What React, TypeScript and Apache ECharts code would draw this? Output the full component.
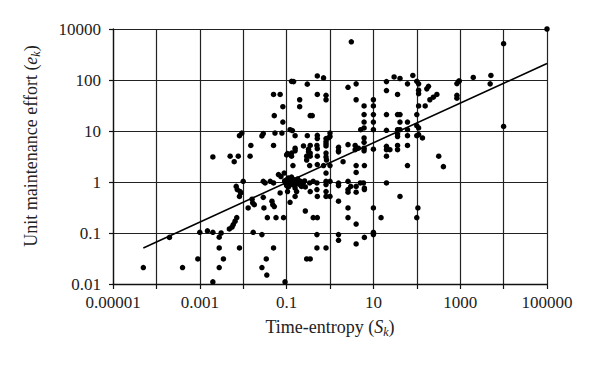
import React, { useEffect, useRef } from "react";
import * as echarts from "echarts";

// Time-entropy (S_k) values of each point
const entropy: number[] = [
  0.002, 0.51, 0.71, 0.13, 0.145, 0.3, 0.05, 0.071, 0.51, 0.81, 0.2, 0.81, 0.082, 0.2, 0.052, 0.35, 0.39, 0.082,
  0.12, 0.136, 0.0093, 0.0082, 0.029, 0.027, 0.054, 0.078, 0.157, 0.3, 0.51, 0.51, 0.81, 0.015, 0.05, 0.157,
  0.157, 0.245, 0.35, 0.32, 0.5, 0.51, 0.81, 0.81, 0.005, 0.0077, 0.0144, 0.1, 0.13, 0.29, 0.35, 0.51,
  3.1, 30, 41, 81, 100, 110, 20, 61, 4, 2.6, 186, 170, 20, 110, 110, 36, 290, 240, 200, 4, 10, 10, 6.1, 110, 156,
  6.1, 10, 20, 36, 41, 100, 10, 6.1, 41, 61, 100, 110, 5.1, 6.1, 10, 20, 36, 41, 61, 1.0, 1.0, 0.92, 0.81,
  36, 36, 61, 100, 110, 135, 6.1, 6.1, 2.6, 1.57, 1.57, 3.8, 3.8, 4.5, 6.1, 6.1, 10, 20, 20, 24, 36, 36, 61, 20, 320,
  0.81, 0.81, 1.57, 0.71, 1.0, 2.0, 4, 6.2, 4, 61, 0.81, 0.81, 0.81, 1.0, 1.57, 1.57, 2.6, 2.6, 2.6, 3.0, 4, 4,
  5, 5.9, 6.2, 6.2, 20, 0.81, 1.0, 1.57, 41, 2.6, 10, 106, 2.6, 15, 100, 4, 1.57, 1.57, 10, 10, 6.2, 4, 0.81,
  100000, 10000, 840, 920, 950, 2000, 5100, 4900, 840, 840, 10000, 410,
  0.0002, 0.001, 0.0015, 0.002, 0.0028, 0.0028, 0.0009, 0.00005, 0.0004, 0.0028, 0.002,
  0.0062, 0.105, 0.13, 0.32, 0.35, 0.29, 0.14, 0.34, 0.51, 0.83, 0.01, 0.0069, 0.0073, 0.0085, 0.0088, 0.0082,
  0.029, 0.032, 0.042, 0.05, 0.065, 0.074, 0.088, 0.1, 0.12, 0.13, 0.145, 0.165, 0.19, 0.21, 0.095, 0.1, 0.11,
  0.157, 0.17, 0.157, 0.22, 0.27, 0.34, 0.41, 0.5, 0.35, 0.5, 0.51, 0.81, 0.105, 0.12, 0.071, 0.046, 0.048, 0.052,
  0.029, 0.016, 0.0165, 0.018, 0.013, 0.03, 0.27, 0.036, 0.057, 0.085, 0.41, 0.51, 0.0071, 0.0065, 0.0059, 0.0055,
  0.0048, 0.0031, 0.017, 0.027, 0.5, 0.0082, 0.05, 0.5, 0.0035, 0.034, 0.29, 0.35, 0.027, 0.035, 0.092,
  0.11, 0.15, 0.18, 0.24, 0.12, 0.14, 0.2, 0.26, 0.09, 0.13, 0.17,
];

// Unit maintenance effort (e_k) values, same order
const effort: number[] = [
  3.1, 120, 110, 94, 93, 83, 52, 52, 52, 50, 41, 41, 30, 30, 20, 20, 20, 15,
  10.6, 10.2, 9.1, 8.1, 8.9, 8, 9.1, 9.1, 8.1, 8.1, 8.2, 7.1, 7.1, 5.2, 5.2, 4.6,
  4.1, 5.1, 5.2, 4.4, 5.2, 4.5, 5.6, 5.1, 3.2, 3.2, 3.2, 3.4, 3.2, 3.2, 3.7, 3.2,
  560, 115, 107, 123, 94, 84, 93, 84, 84, 72, 75, 67, 62, 63, 54, 52, 52, 46, 41, 41, 41, 31, 31, 31, 31,
  21, 21, 21, 21, 21, 21, 15, 15, 15, 15, 12.7, 11.5, 10.6, 11.5, 10.6, 10.3, 10.6, 10.6, 10.6, 9.1, 7.8, 7.3, 6.2,
  8.7, 7.8, 8.1, 8.1, 8.5, 7.3, 7.3, 6.0, 5.4, 4.8, 4.1, 5.2, 4.3, 4.6, 4.6, 4.1, 4.4, 5.0, 4.3, 4.3, 5.2, 4.3, 5.2, 3.2, 3.2,
  3.7, 3.1, 3.9, 2.1, 2.1, 2.5, 2.1, 2.1, 1.54, 2.1, 1.5, 1.03, 0.89, 1.03, 0.95, 0.85, 1.03, 0.71, 0.63, 0.82, 0.82, 0.63,
  0.96, 0.96, 0.76, 0.71, 0.96, 0.52, 0.52, 0.42, 0.52, 0.31, 0.31, 0.31, 0.2, 0.2, 0.2, 0.15, 0.093, 0.072, 0.103, 0.093, 0.082, 0.061, 0.051,
  1000, 515, 85, 94, 96, 112, 123, 84, 50, 44, 12.3, 2.0,
  0.082, 0.103, 0.11, 0.103, 0.083, 0.051, 0.031, 0.021, 0.021, 0.021, 0.011,
  2.5, 3.6, 3.7, 3.9, 3.2, 2.7, 2.1, 2.1, 2.2, 2.7, 1.03, 0.82, 0.71, 0.65, 0.61, 0.52,
  1.03, 0.96, 1.03, 0.96, 1.4, 1.28, 1.5, 1.1, 1.15, 1.03, 0.96, 1.03, 0.96, 1.03, 0.96, 0.85, 0.8,
  0.76, 0.65, 0.52, 0.82, 0.8, 0.96, 1.03, 0.96, 0.65, 0.71, 0.52, 0.65, 0.65, 0.4, 0.61, 0.42, 0.36, 0.33,
  0.5, 0.46, 0.39, 0.36, 0.31, 0.31, 0.27, 0.2, 0.2, 0.2, 0.2, 0.2, 0.2, 0.17, 0.146, 0.13,
  0.12, 0.1, 0.103, 0.093, 0.093, 0.051, 0.051, 0.051, 0.031, 0.031, 0.031, 0.031, 0.021, 0.015, 0.011,
  1.2, 1.1, 1.15, 0.95, 0.9, 0.88, 0.9, 1.05, 1.05, 1.25, 0.92,
];

// Power trend line end points
const trendX: number[] = [0.00005, 100000];
const trendY: number[] = [0.051, 210];

// Tick labels (x: every other decade; y: every decade, top one as printed)
const xTickLabels: string[] = ["0.00001", "0.001", "0.1", "10", "1000", "100000"];
const yTickLabels: string[] = ["0.01", "0.1", "1", "10", "100", "10000"];

const FONT = "'Liberation Serif', 'DejaVu Serif', serif";
const GRID = "#222";

export default function App() {
  const ref = useRef<HTMLDivElement>(null);

  useEffect(() => {
    if (!ref.current) return;
    const chart = echarts.init(ref.current, undefined, { renderer: "svg" });
    const points = entropy.map((x, i) => [x, effort[i]]);
    const trend = trendX.map((x, i) => [x, trendY[i]]);

    chart.setOption({
      animation: false,
      backgroundColor: "#ffffff",
      grid: { left: 113, right: 53, top: 29, bottom: 84, containLabel: false },
      xAxis: {
        type: "log",
        logBase: 10,
        min: 0.00001,
        max: 100000,
        interval: 1,
        axisLine: { show: true, lineStyle: { color: "#111", width: 1.3 } },
        axisTick: { show: true, inside: false, length: 5, lineStyle: { color: "#111", width: 1.2 } },
        axisLabel: {
          margin: 10,
          color: "#222",
          fontFamily: FONT,
          fontSize: 17,
          showMinLabel: true,
          showMaxLabel: true,
          formatter: (v: number) => {
            const e = Math.round(Math.log10(v));
            if (Math.abs(e % 2) !== 1) return "";
            return xTickLabels[(e + 5) / 2] ?? "";
          },
        },
        splitLine: { show: true, lineStyle: { color: GRID, width: 1.2 } },
      },
      yAxis: {
        type: "log",
        logBase: 10,
        min: 0.01,
        max: 1000,
        interval: 1,
        axisLine: { show: true, lineStyle: { color: "#111", width: 1.3 } },
        axisTick: { show: true, inside: false, length: 4, lineStyle: { color: "#111", width: 1.2 } },
        axisLabel: {
          margin: 12,
          color: "#222",
          fontFamily: FONT,
          fontSize: 17,
          showMinLabel: true,
          showMaxLabel: true,
          formatter: (v: number) => {
            const e = Math.round(Math.log10(v));
            return yTickLabels[e + 2] ?? "";
          },
        },
        splitLine: { show: true, lineStyle: { color: GRID, width: 1.2 } },
      },
      graphic: [
        {
          type: "text",
          x: 330,
          y: 327,
          style: {
            text: "Time-entropy ({it|S}{sub|k})",
            fill: "#222",
            font: `18px ${FONT}`,
            fontFamily: FONT,
            fontSize: 18,
            align: "center",
            verticalAlign: "middle",
            rich: {
              it: { fontStyle: "italic", fontFamily: FONT, fontSize: 18, fill: "#222" },
              sub: { fontStyle: "italic", fontFamily: FONT, fontSize: 12, fill: "#222", padding: [9, 0, 0, 0] },
            },
          },
        },
        {
          type: "text",
          x: 31,
          y: 146,
          rotation: Math.PI / 2,
          style: {
            text: "Unit maintenance effort ({it|e}{sub|k})",
            fill: "#222",
            font: `18px ${FONT}`,
            fontFamily: FONT,
            fontSize: 18,
            align: "center",
            verticalAlign: "middle",
            rich: {
              it: { fontStyle: "italic", fontFamily: FONT, fontSize: 18, fill: "#222" },
              sub: { fontStyle: "italic", fontFamily: FONT, fontSize: 12, fill: "#222", padding: [9, 0, 0, 0] },
            },
          },
        },
      ],
      series: [
        {
          type: "line",
          data: trend,
          showSymbol: false,
          symbol: "none",
          lineStyle: { color: "#000", width: 1.6 },
          z: 3,
          silent: true,
        },
        {
          type: "scatter",
          data: points,
          symbol: "circle",
          symbolSize: 5.5,
          itemStyle: { color: "#000", opacity: 1 },
          z: 4,
        },
      ],
    });

    return () => chart.dispose();
  }, []);

  return (
    <div
      ref={ref}
      style={{ position: "absolute", left: 0, top: 0, width: 600, height: 368, background: "#fff" }}
    />
  );
}
